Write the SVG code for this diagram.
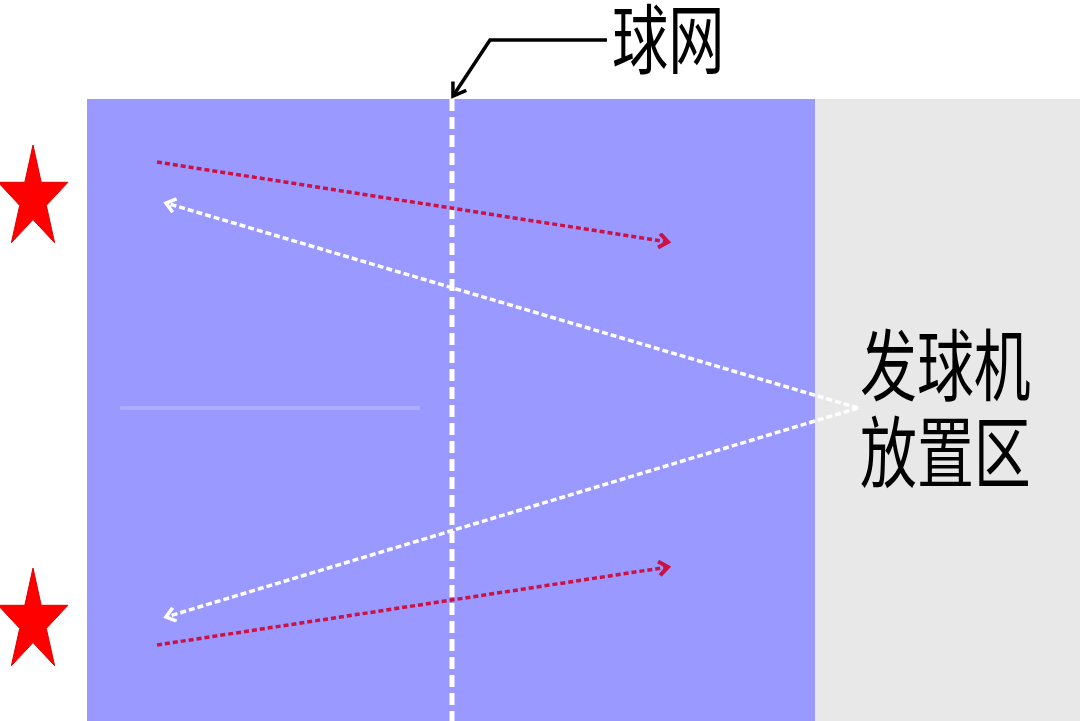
<svg xmlns="http://www.w3.org/2000/svg" width="1080" height="721" viewBox="0 0 1080 721">
<style>
.cjk{font-family:"Noto Sans CJK SC","Noto Sans CJK JP",sans-serif;fill:#000;}
.red{stroke:#CC1144;stroke-width:3.5;stroke-dasharray:5 3;fill:none;}
.wht{stroke:#FFFFFF;stroke-width:3.5;stroke-dasharray:6 3;fill:none;}
</style>
<defs>
<marker id="mr" markerWidth="20" markerHeight="20" refX="12" refY="8" orient="auto" markerUnits="userSpaceOnUse">
<path d="M3,1 L12,8 L3,15" fill="none" stroke="#CC1144" stroke-width="4"/>
</marker>
<marker id="mw" markerWidth="20" markerHeight="20" refX="12" refY="8" orient="auto" markerUnits="userSpaceOnUse">
<path d="M3,1 L12,8 L3,15" fill="none" stroke="#FFFFFF" stroke-width="3.5"/>
</marker>
<marker id="mk" markerWidth="24" markerHeight="24" refX="14" refY="10" orient="auto" markerUnits="userSpaceOnUse">
<path d="M2,2 L14,10 L2,18" fill="none" stroke="#000" stroke-width="3.5"/>
</marker>
<polygon id="star" points="0,-54 8.2,-16.7 34.9,-16.7 13.3,6.4 21.6,43.7 0,20.6 -21.6,43.7 -13.3,6.4 -34.9,-16.7 -8.2,-16.7" fill="#FF0000" stroke="#E00000" stroke-width="1"/>
</defs>
<rect x="0" y="0" width="1080" height="721" fill="#FFFFFF"/>
<g id="court">
<rect x="87" y="99" width="728" height="622" fill="#9999FF"/>
<line x1="120" y1="408" x2="420" y2="408" stroke="#FFFFFF" stroke-width="4" opacity="0.2"/>
</g>
<g id="machine-zone">
<rect x="815" y="99" width="265" height="622" fill="#E8E8E8"/>
<text class="cjk" font-size="78" transform="translate(860,395) scale(0.73,1)">发球机</text>
<text class="cjk" font-size="78" transform="translate(860,482) scale(0.73,1)">放置区</text>
</g>
<g id="net">
<line x1="452" y1="99" x2="452" y2="721" stroke="#FFFFFF" stroke-width="5" stroke-dasharray="12 6"/>
</g>
<g id="net-label">
<text class="cjk" font-size="76" transform="translate(612,68) scale(0.74,1)">球网</text>
</g>
<g id="star-top"><use href="#star" x="33" y="199"/></g>
<g id="star-bottom"><use href="#star" x="33" y="622"/></g>
<g id="connectors">
<polyline points="607,40 490,40 453,96" fill="none" stroke="#000" stroke-width="3.5" marker-end="url(#mk)"/>
<line class="red" x1="157" y1="162" x2="668" y2="242" marker-end="url(#mr)"/>
<line class="red" x1="157" y1="645" x2="668" y2="567" marker-end="url(#mr)"/>
<line class="wht" x1="858" y1="408" x2="166" y2="203" marker-end="url(#mw)"/>
<line class="wht" x1="858" y1="408" x2="166" y2="617" marker-end="url(#mw)"/>
</g>
</svg>
